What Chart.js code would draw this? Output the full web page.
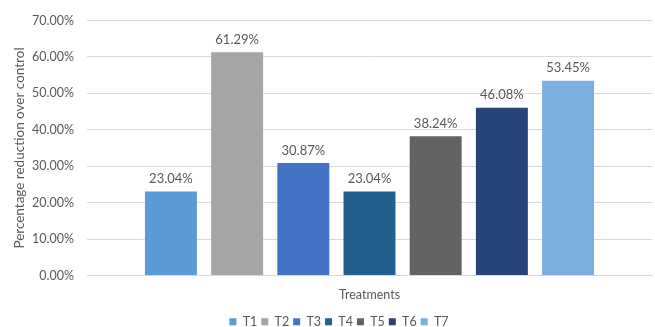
<!DOCTYPE html>
<html lang="en">
<head>
<meta charset="UTF-8">
<title>Percentage reduction over control</title>
<script src="https://cdn.jsdelivr.net/npm/chart.js"></script>
<style>
    html, body { margin: 0; padding: 0; background: #fff; }
    .wrap { width: 655px; height: 327px; position: relative; }
</style>
</head>
<body>
<div class="wrap"><canvas id="chart"></canvas></div>
<script>
// values
const treatments = ['T1', 'T2', 'T3', 'T4', 'T5', 'T6', 'T7'];
const reductions = [23.04, 61.29, 30.87, 23.04, 38.24, 46.08, 53.45];
const barColors = ['#5B9BD5', '#A5A5A5', '#4472C4', '#255E91', '#636363', '#264478', '#7CAFDD'];
const yTicks = [0, 10, 20, 30, 40, 50, 60, 70];

const textColor = '#595959';
const fontFamily = "Lato, 'Open Sans', sans-serif";

// small inline plugin for the value labels above each bar
const valueLabels = {
    id: 'valueLabels',
    afterDatasetsDraw(chart) {
        const ctx = chart.ctx;
        ctx.save();
        ctx.font = '13px ' + fontFamily;
        ctx.fillStyle = textColor;
        ctx.textAlign = 'center';
        ctx.textBaseline = 'bottom';
        chart.data.datasets.forEach((ds, i) => {
            chart.getDatasetMeta(i).data.forEach((bar, j) => {
                ctx.fillText(ds.data[j].toFixed(2) + '%', bar.x, bar.y - 6);
            });
        });
        ctx.restore();
    }
};

// the legend in the original sits a bit right of the page centre
const legendNudge = {
    id: 'legendNudge',
    afterLayout(chart) {
        chart.legend.left += 13;
        chart.legend.right += 13;
    }
};

const datasets = treatments.map((t, i) => ({
    label: t,
    data: [reductions[i]],
    backgroundColor: barColors[i],
    borderWidth: 0,
    categoryPercentage: 0.82,
    barPercentage: 0.785
}));

new Chart(document.getElementById('chart'), {
    type: 'bar',
    data: { labels: [''], datasets },
    plugins: [valueLabels, legendNudge],
    options: {
        responsive: true,
        maintainAspectRatio: false,
        animation: false,
        layout: { padding: { top: 12, right: 3, left: 0, bottom: -11 } },
        plugins: {
            legend: {
                position: 'bottom',
                labels: {
                    boxWidth: 7,
                    boxHeight: 7,
                    padding: 4,
                    color: textColor,
                    font: { family: fontFamily, size: 12.5 }
                }
            },
            tooltip: { enabled: false }
        },
        scales: {
            x: {
                grid: { display: false },
                border: { color: '#d9d9d9', width: 1 },
                ticks: { display: false },
                title: {
                    display: true,
                    text: 'Treatments',
                    color: textColor,
                    font: { family: fontFamily, size: 12.5 },
                    padding: { top: 4, bottom: 9 }
                }
            },
            y: {
                min: yTicks[0],
                max: yTicks[yTicks.length - 1],
                afterBuildTicks(axis) { axis.ticks = yTicks.map(v => ({ value: v })); },
                afterFit(axis) { axis.width = 87; },
                grid: { color: '#d9d9d9', drawTicks: false },
                border: { display: false },
                ticks: {
                    padding: 13,
                    color: textColor,
                    font: { family: fontFamily, size: 12.5 },
                    callback: v => v.toFixed(2) + '%'
                },
                title: {
                    display: true,
                    text: 'Percentage reduction over control',
                    color: textColor,
                    font: { family: fontFamily, size: 13.5 },
                    padding: { top: 12, bottom: 0 }
                }
            }
        }
    }
});
</script>
</body>
</html>
